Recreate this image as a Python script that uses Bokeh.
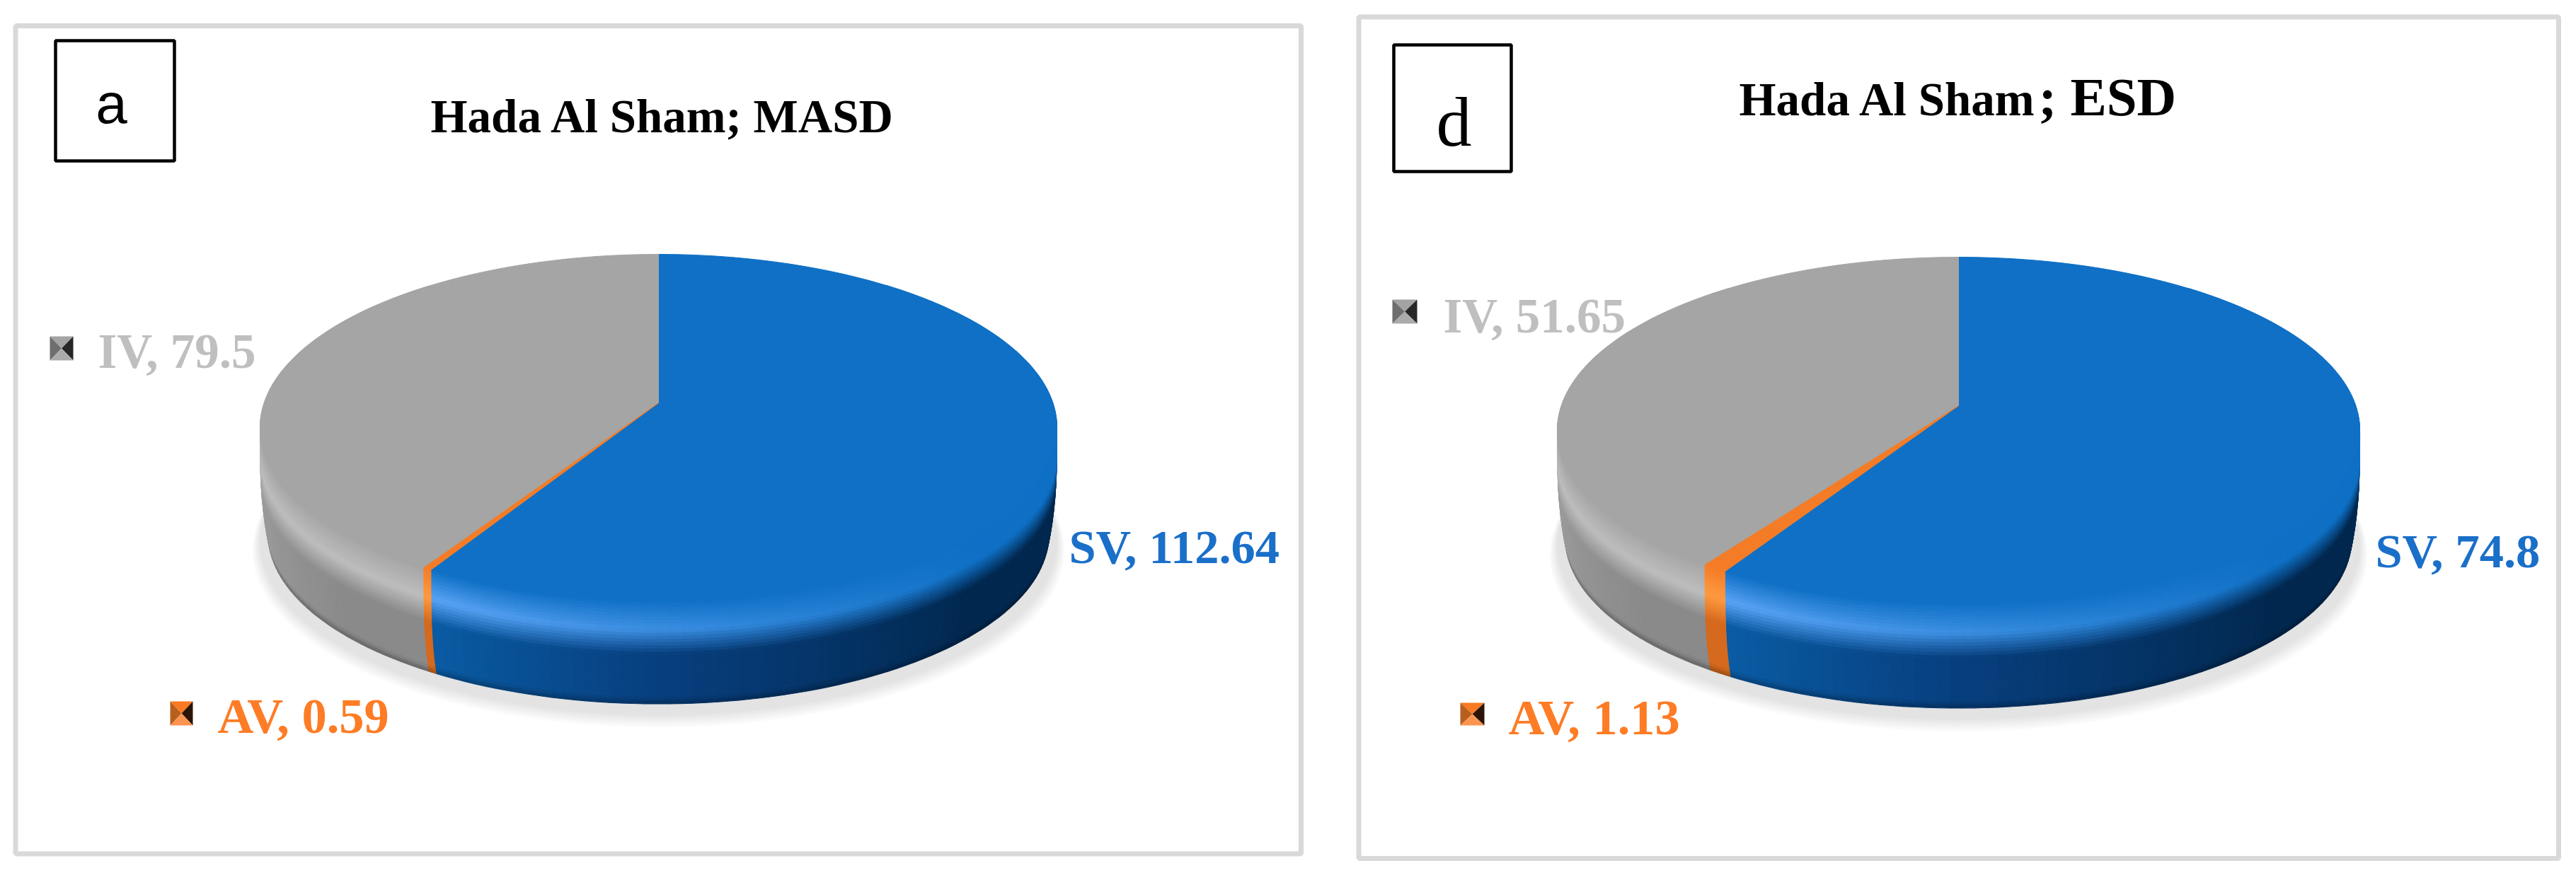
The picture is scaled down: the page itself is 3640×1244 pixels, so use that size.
import math
from bokeh.plotting import figure
from bokeh.models import Range1d
from bokeh.core.properties import value
from bokeh.embed import file_html
from bokeh.resources import INLINE

categories = ["SV", "AV", "IV"]
masd_values = [112.64, 0.59, 79.5]
esd_values = [74.8, 1.13, 51.65]

TOP = {"SV": "#0f70c5", "AV": "#f47c26", "IV": "#a5a5a5"}
TEXT = {"SV": "#1a6fc9", "AV": "#fd7c25", "IV": "#bfbfbf"}
LABEL_SIZE = {"SV": 68.5, "AV": 70.5, "IV": 69}
KEY = {"AV": ("#f97a22", "#b85f1e", "#2b1407", "#fb9450"),
       "IV": ("#a3a3a3", "#6e6e6e", "#262626", "#ababab")}
BASE_FIX = 0.3


def hexrgb(h):
    return tuple(int(h[i:i + 2], 16) for i in (1, 3, 5))


def mix(a, b, t):
    t = max(0.0, min(1.0, t))
    ca, cb = hexrgb(a), hexrgb(b)
    return "#%02x%02x%02x" % tuple(round(x + (y - x) * t) for x, y in zip(ca, cb))


def side_color(cat, th):
    if cat == "SV":
        if th > 180:
            return mix("#073f7e", "#0a5ba3", (th - 180) / 30)
        return mix("#02284f", "#073f7e", (th - 135) / 45)
    if cat == "AV":
        return "#d5691d"
    return mix("#8a8a8a", "#a0a0a0", (th - 225) / 40)


def high_color(cat, th):
    if cat == "SV":
        return mix(TOP["SV"], "#5aa3f5", (th - 135) / 75)
    if cat == "AV":
        return "#ff9a40"
    return "#bdbdbd"


def wall_color(cat, th, t):
    base, high, side = TOP[cat], high_color(cat, th), side_color(cat, th)
    if t < 0.27:
        return mix(base, high, t / 0.27)
    if t < 0.5:
        return mix(high, side, (t - 0.27) / 0.23)
    if t > 0.93:
        return mix(side, "#000000", (t - 0.93) / 0.07 * 0.25)
    return side


p = figure(width=3624, height=1228, x_range=Range1d(0, 3624), y_range=Range1d(1228, 0),
           output_backend="svg", toolbar_location=None, min_border=0)
p.axis.visible = False
p.grid.visible = False
p.outline_line_color = None
p.background_fill_color = "#ffffff"
p.border_fill_color = "#ffffff"


def put_text(x, y, txt, font, size, color, bold=False, align="left"):
    p.text([x], [y - BASE_FIX * size], text=[txt], text_font=value(font),
           text_font_style="bold" if bold else "normal", text_font_size=f"{size}px",
           text_color=color, text_align=align, text_baseline="alphabetic")


def draw_panel(values, cx, ay, rx, depth, frame, box, letter, letter_font, letter_size, letter_pos,
               label_pos, key_pos):
    A, c = 240.0, 0.143
    B = rx * math.sqrt(1 - c * c)
    taper = 0.02

    def project(th, r=1.0, z=0.0):
        rad = math.radians(th)
        u, v = r * math.sin(rad), r * math.cos(rad)
        d = 1 + c * v
        return cx + B * u / d, ay - A * v / d + z

    def wall(th, t):
        return project(th, 1 - taper * t * t * t, t * depth)

    p.quad(left=[frame[0]], right=[frame[1]], top=[frame[2]], bottom=[frame[3]],
           fill_color=None, line_color="#d9d9d9", line_width=7)
    p.quad(left=[box[0]], right=[box[1]], top=[box[2]], bottom=[box[3]],
           fill_color="#ffffff", line_color="#000000", line_width=4.5)
    put_text(letter_pos[0], letter_pos[1], letter, letter_font, letter_size, "#000000", align="center")

    for i in range(14):
        r = 1.02 - i * 0.0015
        pts = [project(a, r, depth + 21 - i * 0.9) for a in range(0, 360, 3)]
        p.patch([q[0] for q in pts], [q[1] for q in pts], fill_color="#000000",
                fill_alpha=0.0075, line_color=None)

    total = sum(values)
    angles = [0.0]
    for val in values:
        angles.append(angles[-1] + val / total * 360)

    zsteps = [i * 0.03 for i in range(20)] + [0.6, 0.7, 0.8, 0.88, 0.93, 0.96, 0.98, 1.0]
    order = [0, 2, 1]
    for idx in order:
        cat = categories[idx]
        a0, a1 = max(angles[idx], 40.0), min(angles[idx + 1], 320.0)
        n = max(1, int((a1 - a0) / 1.5))
        xs, ys, cols = [], [], []
        # back-facing segments first, so the nearer wall paints over them
        steps = range(n) if cat == "SV" else range(n - 1, -1, -1)
        for k in steps:
            ta, tb = a0 + (a1 - a0) * k / n, a0 + (a1 - a0) * (k + 1) / n
            for j in range(len(zsteps) - 1):
                t0, t1 = zsteps[j], zsteps[j + 1]
                corners = [wall(ta, t0), wall(tb, t0), wall(tb, t1), wall(ta, t1)]
                xs.append([q[0] for q in corners])
                ys.append([q[1] for q in corners])
                cols.append(wall_color(cat, (ta + tb) / 2, (t0 + t1) / 2))
        p.patches(xs, ys, fill_color=cols, line_color=cols, line_width=1.1)

    for idx in order:
        cat = categories[idx]
        a0, a1 = angles[idx], angles[idx + 1]
        n = max(2, int((a1 - a0) / 1.0))
        pts = [(cx, ay)] + [project(a0 + (a1 - a0) * k / n) for k in range(n + 1)]
        p.patch([q[0] for q in pts], [q[1] for q in pts], fill_color=TOP[cat],
                line_color=TOP[cat], line_width=1)

    for cat, val in zip(categories, values):
        x, y = label_pos[cat]
        put_text(x, y, f"{cat}, {val}", "Liberation Serif", LABEL_SIZE[cat], TEXT[cat], bold=True)
        if cat in key_pos:
            l, r, t, b = key_pos[cat]
            mx, my = (l + r) / 2, (t + b) / 2
            p.patches([[l, r, mx], [l, l, mx], [r, r, mx], [l, r, mx]],
                      [[t, t, my], [t, b, my], [t, b, my], [b, b, my]],
                      fill_color=list(KEY[cat]), line_color=None)


draw_panel(masd_values, 930, 569, 563, 152, (21.5, 1838, 36, 1206.5), (78, 246, 57, 227),
           "a", "Liberation Sans", 80, (157, 170),
           {"SV": (1510, 793), "AV": (307, 1033), "IV": (138, 517)},
           {"AV": (240, 272, 991, 1025), "IV": (70, 103, 475, 509)})
draw_panel(esd_values, 2767, 573, 567, 154, (1919.5, 3615, 23.5, 1213), (1969, 2135, 63, 242),
           "d", "Liberation Serif", 100, (2054, 202),
           {"SV": (3356, 799), "AV": (2131, 1035), "IV": (2039, 467)},
           {"AV": (2063, 2097, 993, 1025), "IV": (1967, 2002, 423, 457)})

put_text(608, 184, "Hada Al Sham; MASD", "Liberation Serif", 67, "#000000", bold=True)
put_text(2457, 160, "Hada Al Sham", "Liberation Serif", 67, "#000000", bold=True)
put_text(2880, 160, "; ESD", "Liberation Serif", 77, "#000000", bold=True)

open("out.html", "w").write(file_html(p, INLINE))
